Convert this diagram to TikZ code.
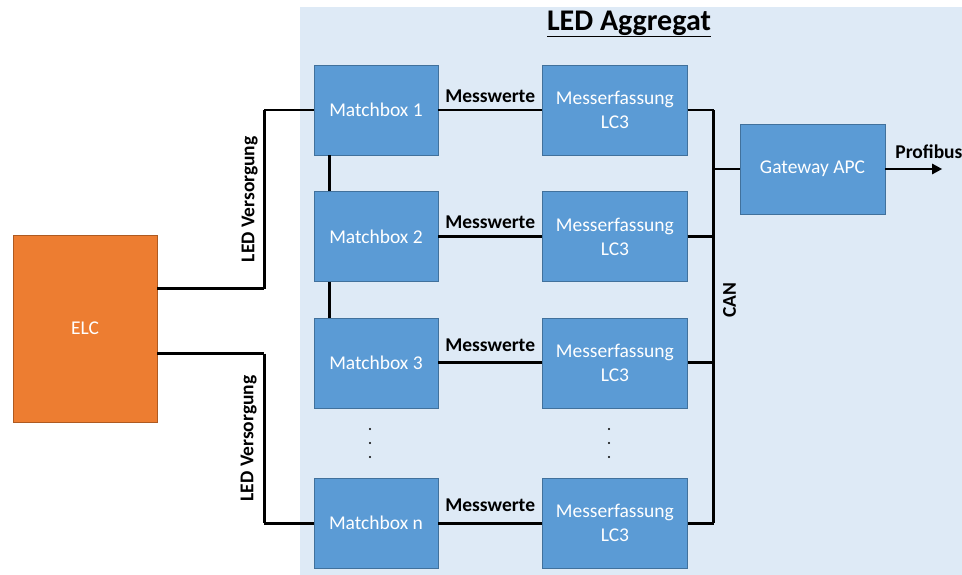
\documentclass[tikz,border=0pt]{standalone}
\usepackage{fontspec}
\setmainfont{Carlito}
\usetikzlibrary{positioning,arrows.meta,calc}

\definecolor{boxblue}{HTML}{5B9BD5}
\definecolor{boxline}{HTML}{41719C}
\definecolor{elcorange}{HTML}{ED7D31}
\definecolor{elcline}{HTML}{AE5A21}
\definecolor{aggbg}{HTML}{DEEAF6}

\begin{document}
\begin{tikzpicture}[
		x = 1pt, y = -1pt, % pixel like coordinates
		> = {Triangle[length=10pt,width=10pt]}, % arrow head style
		font = \fontsize{19.5}{24}\selectfont,
		block/.style = {rectangle, draw=boxline, fill=boxblue, text=white,
			minimum width=124pt, minimum height=90pt, inner sep=0pt, align=center},
		wideblock/.style = {block, minimum width=145pt},
		wire/.style = {line width=2.8pt},
		lbl/.style = {font=\fontsize{19.5}{24}\selectfont\bfseries, inner sep=2pt}
		]
		
		\useasboundingbox (0,0) rectangle (962,575);
		\fill[aggbg] (300,7) rectangle (962,575);
		\node[font=\fontsize{30}{36}\selectfont\bfseries] (title) at (629,24) {\underline{LED Aggregat}};
		
		% matchboxes
		\node[block] (mb1) at (376,110) {Matchbox 1};
		\node[block] (mb2) [below=36pt of mb1] {Matchbox 2};
		\node[block] (mb3) [below=36pt of mb2] {Matchbox 3};
		\node[block] (mbn) [below=70pt of mb3] {Matchbox n};
		
		% messerfassungen
		\node[wideblock] (mf1) [right=104pt of mb1] {Messerfassung\\LC3};
		\node[wideblock] (mf2) [right=104pt of mb2] {Messerfassung\\LC3};
		\node[wideblock] (mf3) [right=104pt of mb3] {Messerfassung\\LC3};
		\node[wideblock] (mfn) [right=104pt of mbn] {Messerfassung\\LC3};
		
		\node[wideblock] (gw) at (812.5,169) {Gateway APC};
		\node[block, draw=elcline, fill=elcorange, minimum width=144pt, minimum height=187pt] (elc) at (85,328.5) {ELC};
		
		% dots
		\coordinate (dmb) at ($(mb3.south)!0.5!(mbn.north)+(-6,0)$);
		\coordinate (dmf) at ($(mf3.south)!0.5!(mfn.north)+(-6,0)$);
		\foreach \d in {-14,0,14} {
			\fill (dmb) ++(0,\d) circle (1.1pt);
			\fill (dmf) ++(0,\d) circle (1.1pt);
		}
		
		% matchbox chain
		\draw[wire] ([xshift=16pt]mb1.south west) -- ([xshift=16pt]mb2.north west);
		\draw[wire] ([xshift=16pt]mb2.south west) -- ([xshift=16pt]mb3.north west);
		
		% messwerte
		\foreach \r/\s in {1/16, 2/16, 3/20, n/20} {
			\draw[wire] (mb\r.east) -- (mf\r.east -| mf\r.west)
				node[lbl, midway, above, yshift=\s pt-12pt] {Messwerte};
		}
		
		% LED supply
		\draw[wire] ([yshift=40pt]elc.east) -- ++(107,0) coordinate (ku);
		\draw[wire] (ku) -- (ku |- mb1.west)
			node[lbl, midway, rotate=90, anchor=south, inner sep=5pt] {LED Versorgung};
		\draw[wire] (ku |- mb1.west) -- (mb1.west);
		\draw[wire] ([yshift=-25pt]elc.east) -- ++(107,0) coordinate (kl);
		\draw[wire] (kl) -- (kl |- mbn.west)
			node[lbl, midway, rotate=90, anchor=south, inner sep=6pt] {LED Versorgung};
		\draw[wire] (kl |- mbn.west) -- (mbn.west);
		
		% CAN bus
		\draw[wire] (mf1.east) -- ++(26,0) coordinate (bus1);
		\draw[wire] (bus1) -- (bus1 |- mfn.east)
			node[lbl, pos=0.46, rotate=90, anchor=north, inner sep=8pt] {CAN};
		\draw[wire] (bus1 |- mfn.east) -- (mfn.east);
		\draw[wire] (mf2.east) -- (mf2.east -| bus1);
		\draw[wire] (mf3.east) -- (mf3.east -| bus1);
		\draw[wire] (gw.west) -- (gw.west -| bus1);
		
		% profibus
		\draw[wire, ->] (gw.east) -- ++(57,0) coordinate (pb);
		\node[lbl, anchor=south west] (pblbl) at ([xshift=8pt, yshift=8pt]gw.east) {Profibus};
	\end{tikzpicture}
\end{document}
